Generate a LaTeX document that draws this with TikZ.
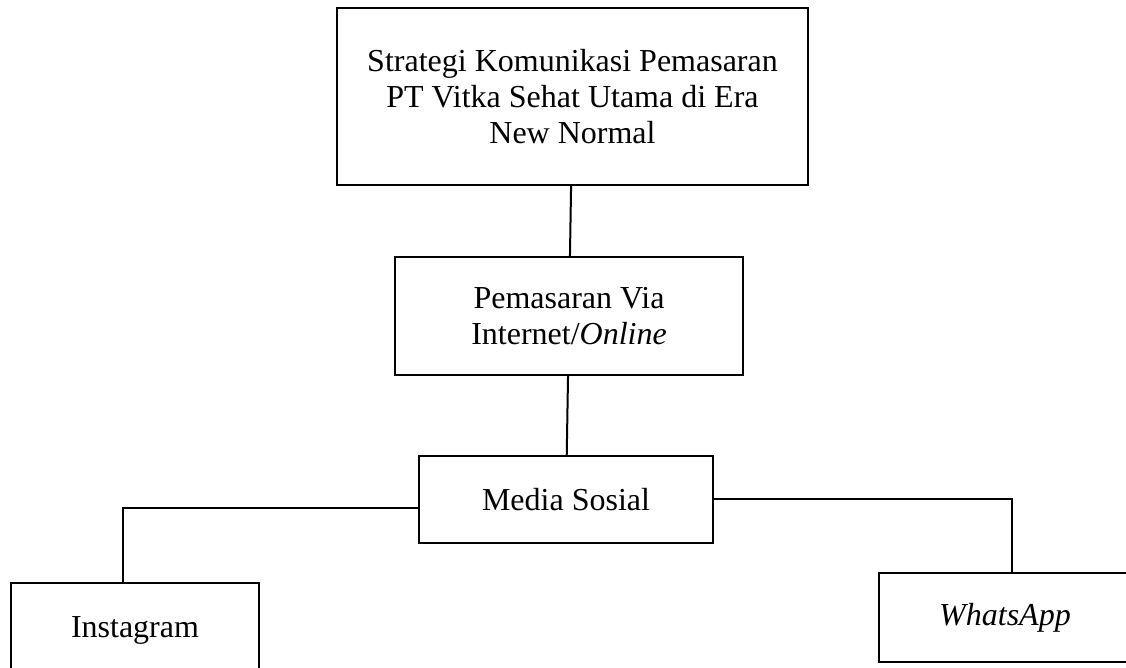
\documentclass[tikz,border=0pt]{standalone}
\usepackage{fontspec}
\setmainfont{Liberation Serif}
\usetikzlibrary{positioning}

\begin{document}
\begin{tikzpicture}[
      x=1pt, y=1pt,
      font=\fontsize{32}{36}\selectfont,
      box/.style={draw=black, line width=2pt, align=center, inner sep=0pt},
      link/.style={draw=black, line width=2pt}
    ]
    \useasboundingbox (0,0) rectangle (1126,-667);
    % main column
    \node[box, minimum width=471pt, minimum height=177pt] (strat) at (572.5,-96.5)
      {Strategi Komunikasi Pemasaran\\PT Vitka Sehat Utama di Era\\New Normal};
    \node[box, minimum width=348pt, minimum height=118pt, below=70pt of strat, xshift=-3.5pt] (online)
      {Pemasaran Via\\Internet/\textit{Online}};
    \node[box, minimum width=294pt, minimum height=87pt, below=79pt of online, xshift=-3pt] (medsos)
      {Media Sosial};
    % platforms
    \node[box, minimum width=248pt, minimum height=94pt] (insta) at (135,-630) {Instagram};
    \node[box, minimum width=252pt, minimum height=89pt] (wa) at (1005,-617.5) {\textit{WhatsApp}};
    \draw[link] (strat) -- (online);
    \draw[link] (online) -- (medsos);
    \draw[link] ([yshift=-8pt]medsos.west) -| ([xshift=-12pt]insta.north);
    \draw[link] ([yshift=1pt]medsos.east) -| ([xshift=7pt]wa.north);
  \end{tikzpicture}
\end{document}
